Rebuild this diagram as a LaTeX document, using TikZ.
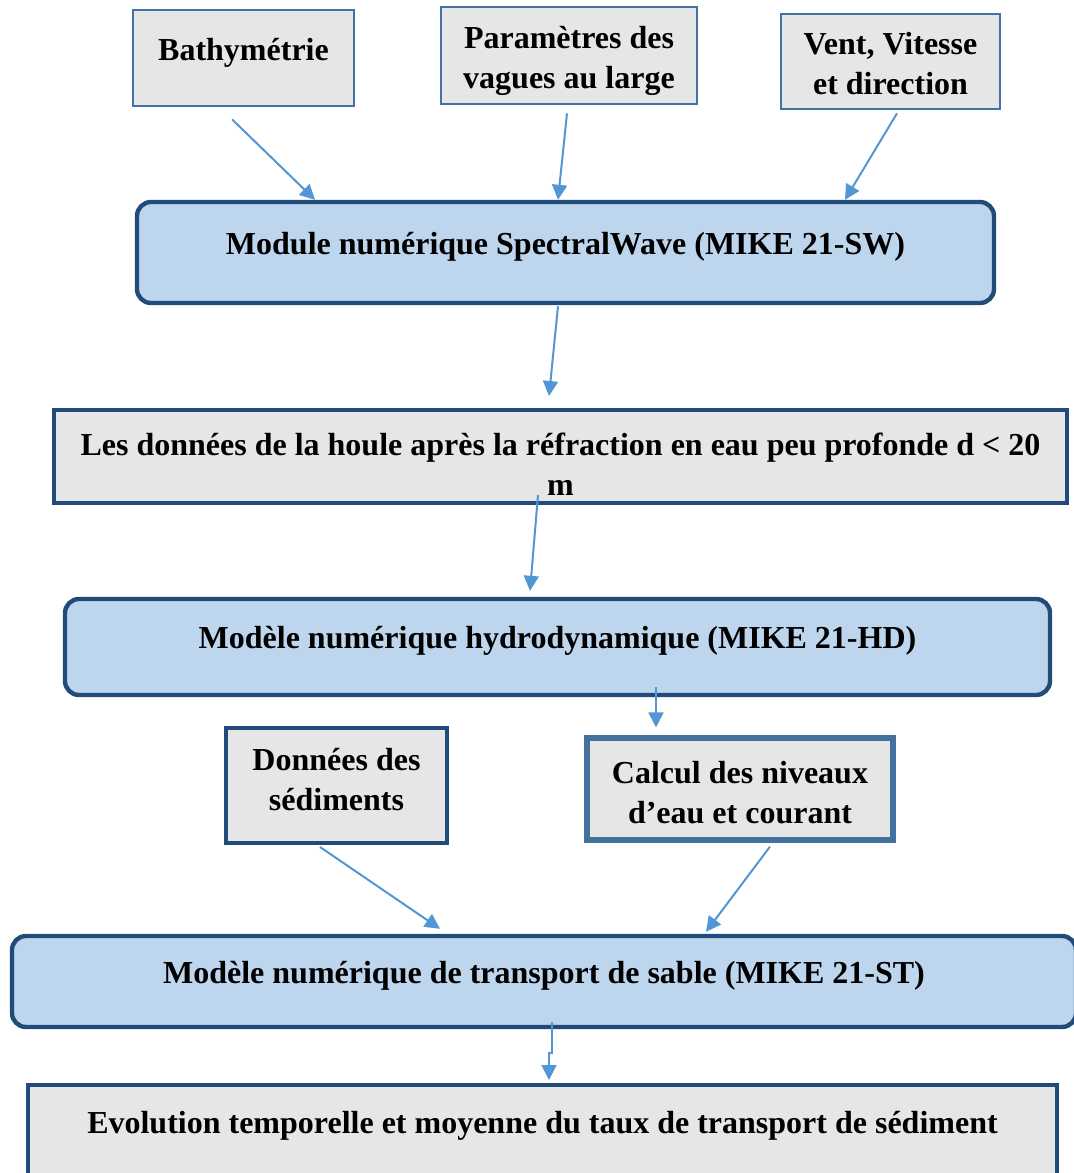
\documentclass[tikz,border=0pt]{standalone}
\usepackage{fontspec}
\setmainfont{Liberation Serif}
\usetikzlibrary{arrows.meta,calc}
\definecolor{inbdr}{RGB}{68,114,168}
\definecolor{navybdr}{RGB}{33,76,122}
\definecolor{calcbdr}{RGB}{66,113,158}
\definecolor{modfill}{RGB}{190,214,237}
\definecolor{datfill}{RGB}{230,230,230}
\definecolor{arrclr}{RGB}{82,150,214}
\tikzset{
  %% input data boxes (top row)
  inblk/.style={rectangle,draw=inbdr,line width=1.3pt,fill=datfill,
    minimum width=#1,font=\fontsize{16}{20}\selectfont\bfseries,
    align=center,inner sep=2pt},
  %% MIKE 21 module blocks
  modblk/.style={rectangle,rounded corners=7pt,draw=navybdr,line width=2.2pt,
    fill=modfill,minimum width=#1,minimum height=47pt,
    font=\fontsize{16}{20}\selectfont\bfseries,align=center,
    text height=11pt,text depth=9.5pt,inner sep=2pt},
  %% result boxes
  resblk/.style={rectangle,draw=navybdr,line width=2pt,fill=datfill,
    minimum width=#1,font=\fontsize{16}{20}\selectfont\bfseries,
    align=center,inner sep=2pt},
  %% arrows
  arr/.style={-{Triangle[length=7.5pt,width=7.5pt]},line width=1pt,color=arrclr},
}
\begin{document}
\begin{tikzpicture}[x=0.5pt,y=-0.5pt]
  \useasboundingbox (0,0) rectangle (1073,1173);

  \node[inblk=110.5pt,minimum height=48pt,text height=11pt,text depth=9pt] (bathy) at (243.5,58) {Bathymétrie};
  \node[inblk=128pt,minimum height=48.5pt,text height=37pt] (param) at (569,55.5) {Paramètres des\\vagues au large};
  \node[inblk=109.5pt,minimum height=47.5pt,text height=33.6pt] (vent) at (890.5,61.5) {Vent, Vitesse\\et direction};

  \node[modblk=428.5pt,minimum height=50.5pt] (sw) at (565.5,252.5) {Module numérique SpectralWave (MIKE 21-SW)};
  \node[resblk=506.5pt,minimum height=46.5pt,text height=39pt] (houle) at (560.5,456.5)
    {Les données de la houle après la réfraction en eau peu profonde d < 20\\m};
  \node[modblk=492.5pt,minimum height=48pt] (hd) at (557.5,647) {Modèle numérique hydrodynamique (MIKE 21-HD)};

  \node[resblk=110.5pt,minimum height=57.5pt,text depth=6pt] (sed) at (336.5,785.5) {Données des\\sédiments};
  \node[resblk=153pt,minimum height=51pt,draw=calcbdr,line width=2.6pt,text height=35pt] (calc) at (740,789) {Calcul des niveaux\\d’eau et courant};

  \node[modblk=532pt,minimum height=45.5pt] (st) at (544,981.5) {Modèle numérique de transport de sable (MIKE 21-ST)};
  \node[resblk=514.5pt,minimum height=47.5pt,text height=11pt,text depth=10pt] (evol) at (542.5,1132.5)
    {Evolution temporelle et moyenne du taux de transport de sédiment};

  \draw[arr] ($(bathy.south)+(-11.5,12)$) -- ($(sw.north)+(-250.5,0)$);
  \draw[arr] ($(param.south)+(-2,8)$) -- ($(sw.north)+(-7.5,0)$);
  \draw[arr] ($(vent.south)+(6.5,3)$) -- ($(sw.north)+(279.5,0)$);
  \draw[arr] ($(sw.south)+(-7.5,1)$) -- ($(houle.north)+(-11.5,-12)$);
  \draw[arr] ($(houle.south)+(-22.5,-10)$) -- ($(hd.north)+(-27.5,-6)$);
  \draw[arr] ($(hd.south)+(98.5,-10)$) -- ($(calc.north)+(-84,-8)$);
  \draw[arr] ($(sed.south)+(-16.5,2)$) -- ($(st.north)+(-104,-5)$);
  \draw[arr] ($(calc.south)+(30,4)$) -- ($(st.north)+(162,-2)$);
  \draw[arr] ($(st.south)+(8,-7)$) -- ++(0,31) -- ++(-3,0) -- ($(evol.north)+(6.5,-3)$);
\end{tikzpicture}
\end{document}
